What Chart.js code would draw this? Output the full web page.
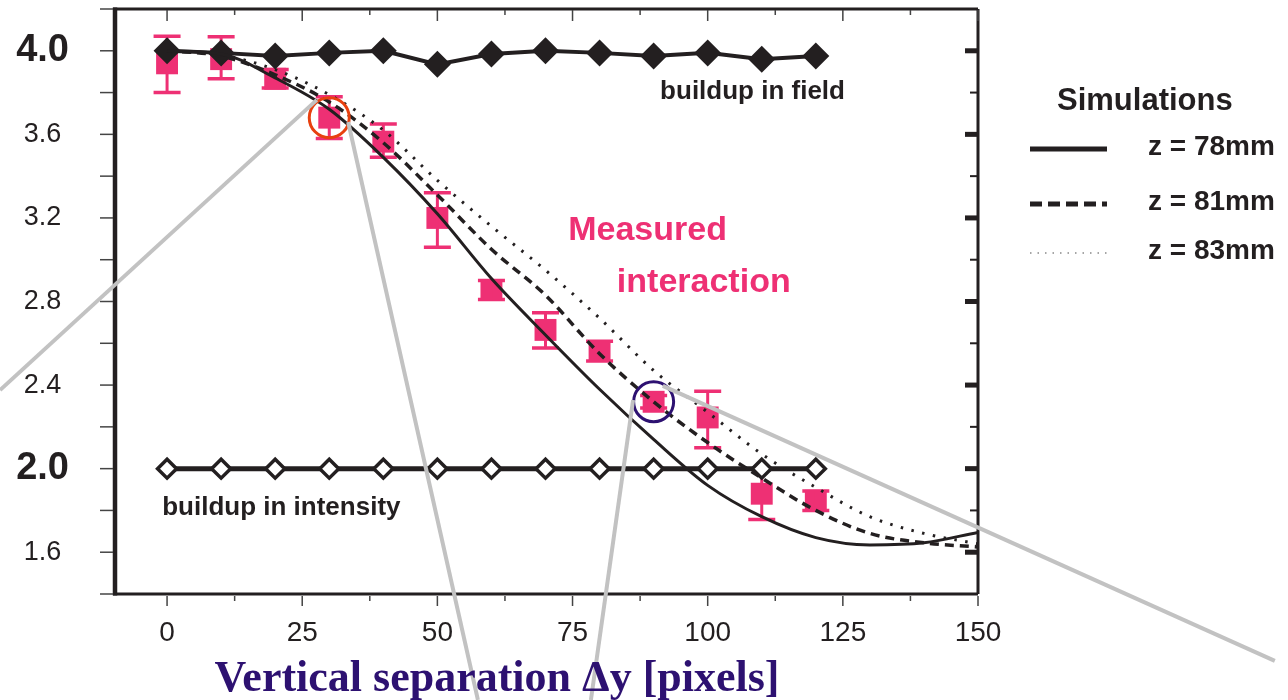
<!DOCTYPE html>
<html><head><meta charset="utf-8">
<script src="https://cdn.jsdelivr.net/npm/chart.js@4"></script>
<style>html,body{margin:0;padding:0;background:#fff}#wrap{width:1288px;height:700px}</style>
</head><body><div id="wrap"><canvas id="c" width="1288" height="700"></canvas></div>
<script>
// ---------- data ----------
const fieldX = [0,10,20,30,40,50,60,70,80,90,100,110,120];
const fieldY = [4.0,3.99,3.975,3.99,4.0,3.935,3.985,4.0,3.99,3.975,3.99,3.96,3.975];
const intensityX = [0,10,20,30,40,50,60,70,80,90,100,110,120];
const intensityY = [2.0,2.0,2.0,2.0,2.0,2.0,2.0,2.0,2.0,2.0,2.0,2.0,2.0];
const measuredX = [0,10,20,30,40,50,60,70,80,90,100,110,120];
const measuredY = [3.94,3.96,3.866,3.68,3.565,3.20,2.855,2.664,2.563,2.32,2.245,1.88,1.846];
const measuredLow = [3.80,3.866,3.822,3.58,3.49,3.06,2.81,2.578,2.515,2.29,2.10,1.757,1.80];
const measuredHigh = [4.07,4.067,3.91,3.78,3.65,3.32,2.90,2.746,2.61,2.35,2.37,2.0,1.893];
const simX = [0,10,20,30,40,50,60,70,80,90,100,110,120,130,140,150];
const z78Y = [4.0,3.985,3.87,3.72,3.49,3.22,2.91,2.64,2.38,2.14,1.92,1.77,1.67,1.635,1.645,1.695];
const z81Y = [4.0,3.975,3.885,3.755,3.56,3.31,3.05,2.83,2.55,2.32,2.125,1.955,1.80,1.69,1.645,1.625];
const z83Y = [4.0,3.98,3.91,3.79,3.62,3.38,3.16,2.95,2.72,2.47,2.27,2.07,1.91,1.77,1.69,1.64];
const xTickValues = [0,12.5,25,37.5,50,62.5,75,87.5,100,112.5,125,137.5,150];
const xLabelValues = [0,25,50,75,100,125,150];
const yTickValues = [1.4,1.6,1.8,2.0,2.2,2.4,2.6,2.8,3.0,3.2,3.4,3.6,3.8,4.0,4.2];
const yLabelValues = [1.6,2.0,2.4,2.8,3.2,3.6,4.0];
const yBoldValues = [2.0,4.0];
const legendLabels = ['z = 78mm','z = 81mm','z = 83mm'];
const legendTitle = 'Simulations';
const xTitle = 'Vertical separation \u0394y [pixels]';

// ---------- annotation placement (data coordinates) ----------
const notes = [
  {text:'buildup in field', x:91.2, y:3.769, color:'#231f20', size:26},
  {text:'buildup in intensity', x:-0.9, y:1.778, color:'#231f20', size:26},
  {text:'Measured', x:74.2, y:3.094, color:'#ee3074', size:34},
  {text:'interaction', x:83.2, y:2.847, color:'#ee3074', size:34}
];
const circles = [{idx:3, color:'#e8400f', r:20}, {idx:9, color:'#2d1171', r:20}];
const callouts = [
  [-30.9,2.376, 27.7,3.765],
  [33.5,3.659, 57.5,0.893],
  [86.2,2.329, 78.4,0.893],
  [91.7,2.396, 204.9,1.080]
];

const SANS = '"Liberation Sans", Arial, sans-serif';
const near = (a,b)=>Math.abs(a-b)<1e-6;
const INK = '#231f20';
const PINK = '#ee3074';

const pts = (xs, ys) => xs.map((x,i)=>({x, y: ys[i]}));

const decor = {
  id:'decor',
  afterDatasetDraw(chart, args){
    if (args.index !== 2) return;
    const ctx = chart.ctx, xs = chart.scales.x, ys = chart.scales.y;
    ctx.save();
    ctx.strokeStyle = PINK;
    measuredX.forEach((xv,i)=>{
      const px = xs.getPixelForValue(xv);
      const lo = ys.getPixelForValue(measuredLow[i]);
      const hi = ys.getPixelForValue(measuredHigh[i]);
      ctx.lineWidth = 3;
      ctx.beginPath(); ctx.moveTo(px, lo); ctx.lineTo(px, hi); ctx.stroke();
      ctx.lineWidth = 3.5;
      ctx.beginPath(); ctx.moveTo(px-13.5, lo); ctx.lineTo(px+13.5, lo);
      ctx.moveTo(px-13.5, hi); ctx.lineTo(px+13.5, hi); ctx.stroke();
    });
    ctx.restore();
  },
  afterDraw(chart){
    const ctx = chart.ctx, xs = chart.scales.x, ys = chart.scales.y, a = chart.chartArea;
    ctx.save();
    // text notes
    notes.forEach(n=>{
      ctx.font = 'bold ' + n.size + 'px ' + SANS;
      ctx.fillStyle = n.color; ctx.textAlign='left'; ctx.textBaseline='alphabetic';
      ctx.fillText(n.text, xs.getPixelForValue(n.x), ys.getPixelForValue(n.y));
    });
    // frame
    ctx.strokeStyle = INK;
    ctx.lineWidth = 3;
    ctx.beginPath();
    ctx.moveTo(a.left, a.top); ctx.lineTo(a.right, a.top);
    ctx.moveTo(a.right, a.top); ctx.lineTo(a.right, a.bottom);
    ctx.moveTo(a.left, a.bottom); ctx.lineTo(a.right, a.bottom);
    ctx.stroke();
    ctx.lineWidth = 4.5;
    ctx.beginPath(); ctx.moveTo(a.left+2, a.top-1.5); ctx.lineTo(a.left+2, a.bottom+1.5); ctx.stroke();
    // ticks
    ctx.strokeStyle = '#444'; ctx.lineWidth = 1.5;
    yTickValues.forEach(v=>{
      const py = ys.getPixelForValue(v);
      ctx.beginPath(); ctx.moveTo(a.left-13, py); ctx.lineTo(a.left, py); ctx.stroke();
    });
    xTickValues.forEach(v=>{
      const px = xs.getPixelForValue(v);
      const major = xLabelValues.some(l=>near(l,v));
      ctx.beginPath();
      ctx.moveTo(px, a.bottom+2); ctx.lineTo(px, a.bottom + (major?12:7));
      ctx.moveTo(px, a.top+1); ctx.lineTo(px, a.top + (major?12:6));
      ctx.stroke();
    });
    ctx.fillStyle = INK; ctx.strokeStyle = INK;
    yTickValues.forEach(v=>{
      const py = ys.getPixelForValue(v);
      const major = yLabelValues.some(l=>near(l,v));
      if (major) ctx.fillRect(a.right-13, py-2.5, 13, 5);
      else { ctx.lineWidth = 2; ctx.beginPath(); ctx.moveTo(a.right-8, py); ctx.lineTo(a.right, py); ctx.stroke(); }
    });
    // circles
    circles.forEach(c=>{
      ctx.strokeStyle = c.color; ctx.lineWidth = 3;
      ctx.beginPath();
      ctx.arc(xs.getPixelForValue(measuredX[c.idx]), ys.getPixelForValue(measuredY[c.idx]), c.r, 0, Math.PI*2);
      ctx.stroke();
    });
    // callout lines
    ctx.strokeStyle = '#c2c2c2'; ctx.lineWidth = 4;
    callouts.forEach(l=>{
      ctx.beginPath();
      ctx.moveTo(xs.getPixelForValue(l[0]), ys.getPixelForValue(l[1]));
      ctx.lineTo(xs.getPixelForValue(l[2]), ys.getPixelForValue(l[3]));
      ctx.stroke();
    });
    // x title
    ctx.fillStyle = '#2d1171';
    ctx.font = 'bold 44px "Liberation Serif", "Times New Roman", serif';
    ctx.textAlign = 'center'; ctx.textBaseline = 'alphabetic';
    ctx.fillText(xTitle, a.left + (a.right-a.left)*0.444, 691);
    // legend
    ctx.fillStyle = INK; ctx.textAlign='left';
    ctx.font = 'bold 31px ' + SANS;
    ctx.fillText(legendTitle, a.right + 79, 110);
    const rows = [149, 204, 253];
    const styles = [
      {w:5, dash:[], color:INK},
      {w:5, dash:[12,6], color:INK},
      {w:1.5, dash:[1.5,6], color:'#888'}
    ];
    rows.forEach((ry,i)=>{
      const s = styles[i];
      ctx.strokeStyle = s.color; ctx.lineWidth = s.w; ctx.setLineDash(s.dash);
      ctx.beginPath(); ctx.moveTo(a.right+52, ry); ctx.lineTo(a.right+129, ry); ctx.stroke();
      ctx.setLineDash([]);
      ctx.fillStyle = INK; ctx.font = 'bold 28px ' + SANS;
      ctx.fillText(legendLabels[i], a.right+170, ry+6);
    });
    ctx.restore();
  }
};

const zeroPad = (s)=>{ s.paddingTop = 0; s.paddingBottom = 0; s.paddingLeft = 0; s.paddingRight = 0; };

new Chart(document.getElementById('c'), {
  type:'line',
  data:{datasets:[
    {label:'buildup in field', data:pts(fieldX, fieldY), borderColor:INK, backgroundColor:INK, borderWidth:4,
     pointStyle:'rectRot', pointRadius:13.5, pointBorderWidth:0, order:4},
    {label:'buildup in intensity', data:pts(intensityX, intensityY), borderColor:INK, backgroundColor:'#fff', borderWidth:5,
     pointStyle:'rectRot', pointRadius:9.5, pointBorderWidth:3.5, pointBackgroundColor:'#fff', order:5},
    {label:'Measured interaction', data:pts(measuredX, measuredY), showLine:false, pointStyle:'rect', pointRadius:15.5,
     backgroundColor:PINK, borderColor:PINK, pointBorderWidth:0, order:6},
    {label:'z = 78mm', data:pts(simX, z78Y), borderColor:INK, borderWidth:3, pointRadius:0, cubicInterpolationMode:'monotone', order:1},
    {label:'z = 81mm', data:pts(simX, z81Y), borderColor:INK, borderWidth:3.5, borderDash:[9,6], pointRadius:0, cubicInterpolationMode:'monotone', order:2},
    {label:'z = 83mm', data:pts(simX, z83Y), borderColor:INK, borderWidth:3, borderDash:[2.5,8.5], pointRadius:0, cubicInterpolationMode:'monotone', order:3}
  ]},
  options:{
    responsive:false, animation:false, devicePixelRatio:1,
    layout:{autoPadding:false, padding:{left:0, right:310, top:9, bottom:0}},
    plugins:{legend:{display:false}, tooltip:{enabled:false}},
    scales:{
      x:{type:'linear', min:-10, max:150,
        grid:{display:false, drawTicks:false, tickLength:0}, border:{display:false},
        afterBuildTicks:(s)=>{ s.ticks = xTickValues.map(v=>({value:v})); },
        afterFit:(s)=>{ s.height = 106; zeroPad(s); },
        ticks:{autoSkip:false, maxRotation:0, padding:22, color:INK,
          font:{family:SANS, size:28},
          callback:(v)=> xLabelValues.some(l=>near(l,v)) ? String(v) : ''}
      },
      y:{type:'linear', min:1.4, max:4.2,
        grid:{display:false, drawTicks:false, tickLength:0}, border:{display:false},
        afterBuildTicks:(s)=>{ s.ticks = yTickValues.map(v=>({value:v})); },
        afterFit:(s)=>{ s.width = 113; zeroPad(s); },
        ticks:{autoSkip:false, padding:44, crossAlign:'center', color:INK,
          font:(c)=>{ const v = c.tick ? c.tick.value : 0;
            return yBoldValues.some(b=>near(b,v)) ? {family:SANS, size:38, weight:'bold'} : {family:SANS, size:27}; },
          callback:(v)=> yLabelValues.some(l=>near(l,v)) ? Number(v).toFixed(1) : ''}
      }
    }
  },
  plugins:[decor]
});
</script>
</body></html>
